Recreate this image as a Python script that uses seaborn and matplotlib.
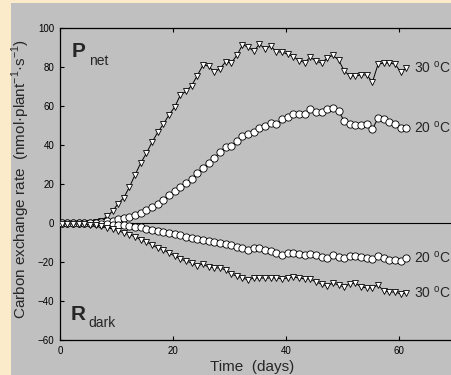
import numpy as np
import pandas as pd
import seaborn as sns
import matplotlib
matplotlib.use("Agg")
import matplotlib.pyplot as plt
from matplotlib.patches import Rectangle

# one reading per day
days = np.arange(62) + 0.3

pnet_30 = [-0.5, -0.5, -0.5, -0.3, 0, 0, 0.3, 1, 3.5, 6,
           10, 13, 18.5, 24.8, 30.8, 35.8, 41.5, 46.5, 50.7, 55.5,
           59.5, 65.6, 67.5, 70.5, 75.6, 81, 80.5, 77.4, 79, 82.6,
           82, 86, 91.3, 90.3, 88, 91.8, 89.2, 90.8, 87.7, 87.7,
           86.5, 85.3, 83.3, 82.3, 85, 83, 82, 84.6, 86, 83.6,
           78, 75.4, 75.4, 75.9, 75.9, 72.3, 81.5, 82, 82, 81.5,
           77.4, 79.5]
pnet_20 = [0, 0, 0, 0, 0, 0, 0.2, 0.5, 0.8, 1.2,
           1.8, 2.5, 3.2, 4, 5, 6.5, 8, 10, 12, 14.5,
           16.4, 18.5, 20.5, 22.8, 25.5, 28, 31, 33.5, 36.2, 39,
           39.5, 42.2, 44.5, 45.8, 46.7, 48.7, 49.5, 51.5, 50.8, 53.3,
           54.4, 55.9, 55.7, 55.9, 58.5, 57, 57, 58.5, 59, 57.4,
           52.3, 50.8, 50.3, 50.3, 50.8, 48.2, 53.8, 53.3, 51.8, 50.8,
           48.7, 48.7]
rdark_20 = [0, 0, 0, 0, 0, 0, 0, -0.3, -0.5, -0.8,
            -1, -1.2, -1.5, -2, -2.3, -3, -3.5, -4, -4.6, -5.1,
            -5.6, -6.2, -7, -7.6, -8, -8.5, -9.2, -9.8, -10.2, -10.8,
            -11.3, -12.3, -12.8, -13.8, -12.8, -12.8, -13.8, -14.4, -15.4, -16.4,
            -15.4, -15.4, -15.9, -16.4, -15.9, -16.4, -17.4, -17.9, -16.4, -17.4,
            -17.9, -16.9, -16.9, -17.4, -17.9, -18.5, -16.9, -17.9, -19, -19,
            -19.5, -17.9]
rdark_30 = [-0.5, -0.5, -0.5, -0.5, -0.5, -0.8, -1, -1.5, -2.5, -3,
            -4, -5, -6, -7, -8.7, -9.7, -11.3, -12.8, -13.8, -15.4,
            -16.9, -18.5, -19.5, -20.5, -22, -21, -22.6, -23, -23, -24.1,
            -26.2, -27.2, -28.2, -29.2, -28.2, -28.2, -28.2, -28.2, -28.2, -28.7,
            -28.2, -27.7, -28.2, -28.7, -28.7, -30.3, -31.3, -32.3, -30.8, -31.8,
            -32.8, -31.3, -30.8, -32.8, -33.3, -33.3, -31.8, -34.9, -35.4, -35.4,
            -36.4, -35.9]

series = [(pnet_30, 'v', '30 $^\\mathregular{o}$C'),
          (pnet_20, 'o', '20 $^\\mathregular{o}$C'),
          (rdark_20, 'o', '20 $^\\mathregular{o}$C'),
          (rdark_30, 'v', '30 $^\\mathregular{o}$C')]

sns.set_style("ticks")
plt.rcParams['font.family'] = ['Liberation Sans', 'DejaVu Sans']
plt.rcParams['mathtext.fontset'] = 'custom'
plt.rcParams['mathtext.rm'] = 'Liberation Sans'
plt.rcParams['mathtext.bf'] = 'Liberation Sans:bold'

fig = plt.figure(figsize=(4.52, 3.75), dpi=100, facecolor='#fcebcb')
fig.patches.append(Rectangle((11 / 452, 0), 1, 1 - 3 / 375, transform=fig.transFigure,
                             facecolor='#c0c0c0', edgecolor='none', zorder=-5))
ax = fig.add_axes([60 / 452, 35 / 375, 395.5 / 452, 312 / 375])
ax.set_zorder(2)
ax.set_facecolor('#c0c0c0')

ax.axhline(0, color='black', lw=0.8, zorder=1)

for vals, mk, lab in series:
    sns.lineplot(x=days, y=vals, ax=ax, color='black', lw=0.7, marker=mk,
                 markersize=5 if mk == 'v' else 5.2, markerfacecolor='white',
                 markeredgecolor='black', markeredgewidth=0.6, zorder=3)
    ax.text(62.7, vals[-1], lab, fontsize=10, ha='left', va='center')

ax.text(2, 85, 'P', fontsize=15, fontweight='bold', ha='left', va='baseline')
ax.text(5.2, 81, 'net', fontsize=10, ha='left', va='baseline')
ax.text(1.9, -49.7, 'R', fontsize=15, fontweight='bold', ha='left', va='baseline')
ax.text(5.0, -53.3, 'dark', fontsize=10, ha='left', va='baseline')

ax.set_xlim(0, 70)
ax.set_ylim(-60, 100)
ax.set_xticks([0, 20, 40, 60])
ax.set_yticks(range(-60, 101, 20))
ax.tick_params(direction='in', length=3, width=0.8, labelsize=7, top=True,
               right=False, colors='black', pad=4)
for s in ['left', 'bottom', 'top']:
    ax.spines[s].set_linewidth(0.9)
    ax.spines[s].set_color('black')
ax.spines['right'].set_visible(False)

ax.set_xlabel('Time  (days)', fontsize=11)
ax.xaxis.set_label_coords(0.485, -0.063)
ax.set_ylabel('Carbon exchange rate  (nmol·plant$^{\\mathregular{-1}}$·s$^{\\mathregular{-1}}$)', fontsize=11)
ax.yaxis.set_label_coords(-0.072, 0.516)

fig.savefig('out.png', dpi=100, facecolor=fig.get_facecolor())
